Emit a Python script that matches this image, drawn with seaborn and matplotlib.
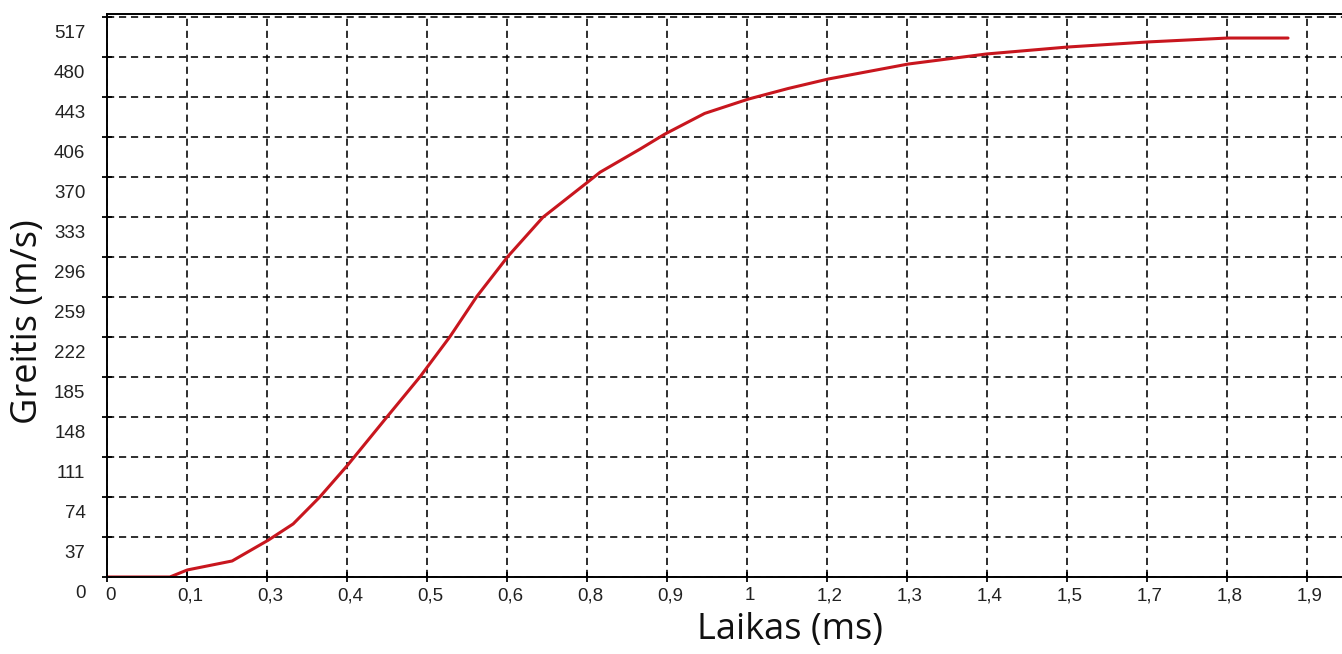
import matplotlib
matplotlib.use("Agg")
import matplotlib.pyplot as plt
import matplotlib.transforms as mtransforms
import seaborn as sns
import pandas as pd

# Data
time_ms = [0.0, 0.101, 0.129, 0.201, 0.259, 0.299, 0.342, 0.387, 0.450, 0.503,
           0.551, 0.594, 0.644, 0.700, 0.773, 0.792, 0.856, 0.896, 0.960, 1.030,
           1.094, 1.158, 1.287, 1.413, 1.543, 1.672, 1.800, 1.897]
speed = [0.0, 0.0, 6.5, 14.8, 34.0, 49.0, 74.0, 103.6, 148.0, 185.0,
         222.0, 259.0, 296.0, 332.0, 365.0, 373.7, 395.0, 408.9, 428.0, 441.2,
         451.0, 459.7, 473.6, 482.9, 489.3, 494.0, 497.6, 497.6]

x_tick_step = 0.1285
x_tick_labels = ["0", "0,1", "0,3", "0,4", "0,5", "0,6", "0,8", "0,9", "1",
                 "1,2", "1,3", "1,4", "1,5", "1,7", "1,8", "1,9"]
y_tick_values = [0, 37, 74, 111, 148, 185, 222, 259, 296, 333, 370, 406, 443, 480, 517]
y_tick_step = 36.93

df = pd.DataFrame({"Laikas": time_ms, "Greitis": speed})

sns.set_theme(style="white")
plt.rcParams["font.family"] = ["Liberation Sans", "DejaVu Sans"]

W, H, DPI = 1342, 654, 100
fig = plt.figure(figsize=(W / DPI, H / DPI), dpi=DPI)
fig.patch.set_facecolor("white")
ax = fig.add_axes([107 / W, (H - 577) / H, (W - 107) / W, (577 - 14) / H])
ax.set_facecolor("white")

sns.lineplot(data=df, x="Laikas", y="Greitis", ax=ax, color="#c8161e",
             linewidth=2.2, sort=False, estimator=None)

xt = [i * x_tick_step for i in range(len(x_tick_labels))]
yt = [i * y_tick_step for i in range(len(y_tick_values))]
ax.set_xticks(xt)
ax.set_xticklabels(x_tick_labels)
ax.set_yticks(yt)
ax.set_yticklabels([str(v) for v in y_tick_values])

ax.set_xlim(0, (W - 107) / 80 * x_tick_step)
ax.set_ylim(0, (577 - 14) / 40 * y_tick_step)

ax.grid(True, color="black", linestyle=(0, (4.5, 3.0)), linewidth=1.15)
ax.set_axisbelow(True)

for s in ["left", "bottom", "top"]:
    ax.spines[s].set_visible(True)
    ax.spines[s].set_color("black")
    ax.spines[s].set_linewidth(1.4)
ax.spines["right"].set_visible(False)

ax.tick_params(axis="both", which="major", direction="inout", length=7, width=1.3,
               color="black", labelsize=13.5, labelcolor="#222222")
ax.tick_params(axis="x", pad=4)
ax.tick_params(axis="y", pad=12)
ax.tick_params(left=True, bottom=True)

# y tick labels sit below their ticks in the reference
off_y = mtransforms.ScaledTranslation(0, -14 / DPI, fig.dpi_scale_trans)
for lab in ax.get_yticklabels():
    lab.set_transform(lab.get_transform() + off_y)
off_x = mtransforms.ScaledTranslation(3 / DPI, 0, fig.dpi_scale_trans)
for lab in ax.get_xticklabels():
    lab.set_transform(lab.get_transform() + off_x)

ax.set_xlabel("")
ax.set_ylabel("")
fig.text(790 / W, 1 - 630 / H, "Laikas (ms)", family=["Open Sans", "DejaVu Sans"],
         fontsize=26, ha="center", va="center", color="#111111")
fig.text(28 / W, 1 - 322 / H, "Greitis (m/s)", family=["Open Sans", "DejaVu Sans"],
         fontsize=26, ha="center", va="center", rotation=90, color="#111111")

fig.savefig("out.png", dpi=DPI, facecolor="white")
